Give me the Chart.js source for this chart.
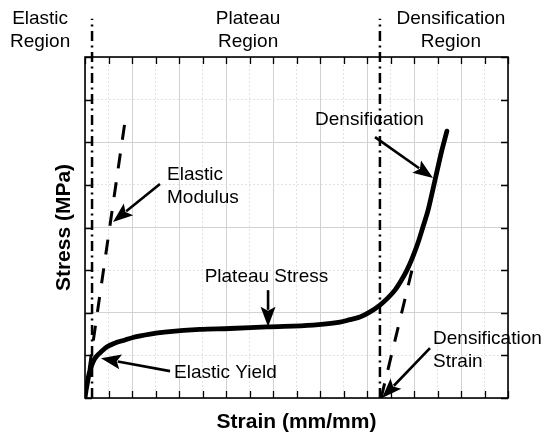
<!DOCTYPE html>
<html><head><meta charset="utf-8">
<script src="https://cdn.jsdelivr.net/npm/chart.js@4"></script>
<style>html,body{margin:0;padding:0;background:#fff}#wrap{width:550px;height:438px;position:relative}</style>
</head><body><div id="wrap"><canvas id="c"></canvas></div>
<script>
// ---- data ----
const strainData = [0,0.04,0.11,0.17,0.26,0.38,0.51,0.68,0.94,1.28,1.70,2.04,2.77,3.49,4.89,6.17,7.74,9.70,10.85,11.28,11.70,12.13,12.55,12.89,13.19,13.45,13.70,13.96,14.17,14.38,14.60,14.77,15.02,15.19,15.40];
const stressData = [0,0.16,0.38,0.56,0.73,0.89,0.99,1.08,1.20,1.29,1.36,1.42,1.50,1.55,1.61,1.63,1.67,1.71,1.78,1.84,1.90,2.02,2.18,2.35,2.53,2.75,3.00,3.33,3.64,4.01,4.41,4.81,5.42,5.82,6.26];
const elasticLineX = [0, 1.70];
const elasticLineY = [0, 6.48];
const densLineX = [12.6, 14.0];
const densLineY = [0, 3.2];
const boundaryX = [0.3, 12.55];
const boundaryY = [0, 8.9];
const xRange = [0, 18];
const yRange = [0, 8];
const tickStep = 1;
// annotations (data coordinates)
const arrowTails = [[3.19,5.02],[3.62,0.63],[7.79,2.53],[12.34,6.12],[14.68,1.17]];
const arrowTips  = [[1.19,4.13],[0.68,0.93],[7.79,1.67],[14.81,5.16],[12.64,0]];
const noteTexts  = [["Elastic","Modulus"],["Elastic Yield"],["Plateau Stress"],["Densification"],["Densification","Strain"]];
const noteAnchors = [[3.49,5.11],[3.79,0.47],[7.72,2.72],[9.79,6.40],[14.81,1.27]];
const noteAlign = ["left","left","center","left","left"];
const regionTexts = [["Elastic","Region"],["Plateau","Region"],["Densification","Region"]];
const regionAnchors = [[-1.91,8.77],[6.94,8.77],[15.57,8.77]];
const xTitle = "Strain (mm/mm)";
const yTitle = "Stress (MPa)";

const FONT = '"Liberation Sans", Arial, sans-serif';

function pts(xs, ys){ return xs.map((x,i)=>({x, y: ys[i]})); }

const decor = {
  id: 'decor',
  afterDatasetsDraw(chart){
    const ctx = chart.ctx, a = chart.chartArea;
    const xs = chart.scales.x, ys = chart.scales.y;
    ctx.save();
    // frame
    ctx.strokeStyle = '#000'; ctx.lineWidth = 1.6;
    ctx.strokeRect(a.left, a.top, a.right - a.left, a.bottom - a.top);
    // inward ticks
    ctx.lineWidth = 1.3;
    ctx.beginPath();
    xs.ticks.forEach(t => {
      const p = Math.round(xs.getPixelForValue(t.value)) + 0.5;
      ctx.moveTo(p, a.bottom); ctx.lineTo(p, a.bottom - 7);
      ctx.moveTo(p, a.top); ctx.lineTo(p, a.top + 7);
    });
    ys.ticks.forEach(t => {
      const p = Math.round(ys.getPixelForValue(t.value)) + 0.5;
      ctx.moveTo(a.left, p); ctx.lineTo(a.left + 7, p);
      ctx.moveTo(a.right, p); ctx.lineTo(a.right - 7, p);
    });
    ctx.stroke();
    // arrows
    ctx.fillStyle = '#000'; ctx.strokeStyle = '#000'; ctx.lineWidth = 2.6;
    arrowTails.forEach((tl, i) => {
      const x1 = xs.getPixelForValue(tl[0]), y1 = ys.getPixelForValue(tl[1]);
      const x2 = xs.getPixelForValue(arrowTips[i][0]), y2 = ys.getPixelForValue(arrowTips[i][1]);
      const ang = Math.atan2(y2 - y1, x2 - x1);
      const hl = 20, hw = 7.5;
      const bx = x2 - hl * Math.cos(ang), by = y2 - hl * Math.sin(ang);
      ctx.beginPath(); ctx.moveTo(x1, y1); ctx.lineTo(bx + 3*Math.cos(ang), by + 3*Math.sin(ang)); ctx.stroke();
      ctx.beginPath(); ctx.moveTo(x2, y2);
      ctx.lineTo(bx + hw * Math.sin(ang), by - hw * Math.cos(ang));
      ctx.lineTo(bx + 4*Math.cos(ang), by + 4*Math.sin(ang));
      ctx.lineTo(bx - hw * Math.sin(ang), by + hw * Math.cos(ang));
      ctx.closePath(); ctx.fill();
    });
    // texts
    ctx.font = '19px ' + FONT; ctx.textBaseline = 'alphabetic';
    const drawLines = (lines, anchor, align) => {
      const x = xs.getPixelForValue(anchor[0]), y = ys.getPixelForValue(anchor[1]);
      ctx.textAlign = align;
      lines.forEach((s, k) => ctx.fillText(s, x, y + k * 23));
    };
    noteTexts.forEach((l, i) => drawLines(l, noteAnchors[i], noteAlign[i]));
    regionTexts.forEach((l, i) => drawLines(l, regionAnchors[i], 'center'));
    // axis titles
    ctx.font = 'bold 21px ' + FONT; ctx.textAlign = 'center';
    ctx.fillText(xTitle, (a.left + a.right) / 2, a.bottom + 30);
    ctx.translate(a.left - 15, (a.top + a.bottom) / 2);
    ctx.rotate(-Math.PI / 2);
    ctx.fillText(yTitle, 0, 0);
    ctx.restore();
  }
};

new Chart(document.getElementById('c'), {
  type: 'scatter',
  data: {
    datasets: [
      { data: pts(strainData, stressData), showLine: true, borderColor: '#000', borderWidth: 4.8,
        pointRadius: 0, cubicInterpolationMode: 'monotone', borderCapStyle: 'round', borderJoinStyle: 'round' },
      { data: pts(elasticLineX, elasticLineY), showLine: true, borderColor: '#000', borderWidth: 3,
        pointRadius: 0, borderDash: [15, 14] },
      { data: pts(densLineX, densLineY), showLine: true, borderColor: '#000', borderWidth: 3,
        pointRadius: 0, borderDash: [15, 14] },
      { data: pts([boundaryX[0], boundaryX[0]], boundaryY), showLine: true, borderColor: '#000', borderWidth: 2.5,
        pointRadius: 0, borderDash: [10, 4.5, 2, 4.5], clip: false },
      { data: pts([boundaryX[1], boundaryX[1]], boundaryY), showLine: true, borderColor: '#000', borderWidth: 2.5,
        pointRadius: 0, borderDash: [10, 4.5, 2, 4.5], clip: false }
    ]
  },
  options: {
    responsive: true, maintainAspectRatio: false, animation: false,
    layout: { padding: { left: 85, right: 42, top: 57, bottom: 40 } },
    plugins: { legend: { display: false }, tooltip: { enabled: false } },
    scales: {
      x: { type: 'linear', min: xRange[0], max: xRange[1],
        ticks: { display: false, stepSize: tickStep },
        grid: { drawTicks: false, color: c => (c.tick && c.tick.value % 2 === 0) ? '#d2d2d2' : '#e2e2e2', lineWidth: 1 },
        border: { display: false, dash: c => (c.tick && c.tick.value % 2 === 0) ? [] : [2, 2] } },
      y: { type: 'linear', min: yRange[0], max: yRange[1],
        ticks: { display: false, stepSize: tickStep },
        grid: { drawTicks: false, color: c => (c.tick && c.tick.value % 2 === 0) ? '#d2d2d2' : '#e2e2e2', lineWidth: 1 },
        border: { display: false, dash: c => (c.tick && c.tick.value % 2 === 0) ? [] : [2, 2] } }
    }
  },
  plugins: [decor]
});
</script>
</body></html>
